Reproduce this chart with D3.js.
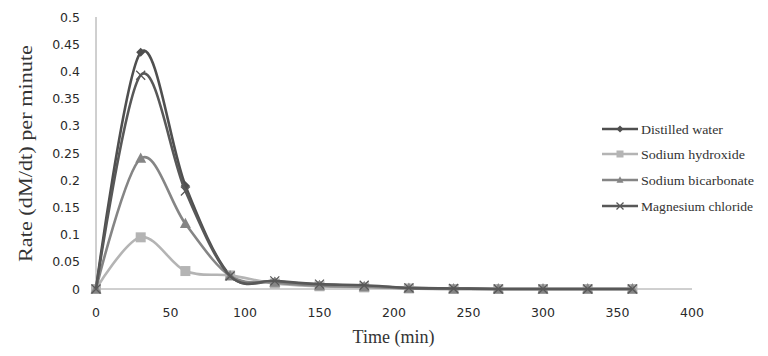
<!DOCTYPE html>
<html><head><meta charset="utf-8">
<script src="https://cdn.jsdelivr.net/npm/d3@7"></script>
<style>body{margin:0;background:#fff;}svg{display:block;}</style>
</head><body><svg id="c" width="768" height="356"></svg>
<script>
const times = [0,30,60,90,120,150,180,210,240,270,300,330,360];
const distilledWater = [0,0.435,0.19,0.025,0.014,0.008,0.005,0.002,0.001,0,0,0,0];
const sodiumHydroxide = [0,0.095,0.033,0.025,0.01,0.005,0.003,0.001,0,0,0,0,0];
const sodiumBicarbonate = [0,0.24,0.12,0.024,0.012,0.006,0.004,0.001,0,0,0,0,0];
const magnesiumChloride = [0,0.393,0.18,0.024,0.015,0.009,0.007,0.002,0.001,0,0,0,0];
const seriesNames = ["Distilled water","Sodium hydroxide","Sodium bicarbonate","Magnesium chloride"];
const xTicks = [0,50,100,150,200,250,300,350,400];
const yTicks = [0,0.05,0.1,0.15,0.2,0.25,0.3,0.35,0.4,0.45,0.5];

const series = [
  {name:seriesNames[0], values:distilledWater, color:"#4f4f4f", marker:"diamond", len:82},
  {name:seriesNames[1], values:sodiumHydroxide, color:"#b4b4b4", marker:"square", len:104},
  {name:seriesNames[2], values:sodiumBicarbonate, color:"#858585", marker:"triangle", len:113},
  {name:seriesNames[3], values:magnesiumChloride, color:"#585858", marker:"x", len:112}
];

const svg = d3.select("#c");
const x = d3.scaleLinear().domain([0,400]).range([96,692]);
const y = d3.scaleLinear().domain([0,0.5]).range([289,17]);

svg.append("line").attr("x1",x(0)).attr("x2",x(0)).attr("y1",y(0.5)).attr("y2",y(0)).attr("stroke","#a0a0a0").attr("stroke-width",1);
svg.append("line").attr("x1",x(0)).attr("x2",x(400)).attr("y1",y(0)).attr("y2",y(0)).attr("stroke","#a0a0a0").attr("stroke-width",1);

const tickFont = "'DejaVu Sans', sans-serif";
const serif = "'Liberation Serif', 'Times New Roman', serif";
svg.append("g").selectAll("text").data(yTicks).join("text")
  .attr("x",80).attr("y",d=>y(d)).attr("dy","0.36em").attr("text-anchor","end")
  .attr("font-family",tickFont).attr("font-size",12.5).attr("fill","#2a2a2a")
  .text(d=>d3.format("~g")(d));
svg.append("g").selectAll("text").data(xTicks).join("text")
  .attr("x",d=>x(d)).attr("y",312).attr("dy","0.36em").attr("text-anchor","middle")
  .attr("font-family",tickFont).attr("font-size",12.5).attr("fill","#2a2a2a")
  .text(d=>d);

svg.append("text").attr("x",393.5).attr("y",343).attr("text-anchor","middle")
  .attr("font-family",serif).attr("font-size",18).attr("fill","#333")
  .attr("textLength",82).attr("lengthAdjust","spacingAndGlyphs").text("Time (min)");
svg.append("text").attr("transform","translate(32,153.5) rotate(-90)").attr("text-anchor","middle")
  .attr("font-family",serif).attr("font-size",19).attr("fill","#333")
  .attr("textLength",217).attr("lengthAdjust","spacingAndGlyphs").text("Rate (dM/dt) per minute");

const line = d3.line().x((d,i)=>x(times[i])).y(d=>y(d)).curve(d3.curveCardinal.tension(0));

function drawMarker(g, type, cx, cy, color, s){
  if(type==="diamond"){
    g.append("path").attr("d",`M${cx},${cy-s}L${cx+s},${cy}L${cx},${cy+s}L${cx-s},${cy}Z`).attr("fill",color);
  } else if(type==="square"){
    g.append("rect").attr("x",cx-s).attr("y",cy-s).attr("width",2*s).attr("height",2*s).attr("fill",color);
  } else if(type==="triangle"){
    g.append("path").attr("d",`M${cx},${cy-s*1.1}L${cx+s},${cy+s*0.8}L${cx-s},${cy+s*0.8}Z`).attr("fill",color);
  } else {
    g.append("path").attr("d",`M${cx-s},${cy-s}L${cx+s},${cy+s}M${cx-s},${cy+s}L${cx+s},${cy-s}`).attr("stroke",color).attr("stroke-width",1.3);
  }
}
const sizes = {diamond:4.5, square:5, triangle:5.5, x:4.5};

series.forEach(s=>{
  const g = svg.append("g");
  g.append("path").datum(s.values).attr("d",line).attr("fill","none").attr("stroke",s.color).attr("stroke-width",2.6);
  s.values.forEach((v,i)=>drawMarker(g,s.marker,x(times[i]),y(v),s.color,sizes[s.marker]));
});

const legY = [129,154,180,206];
series.forEach((s,i)=>{
  const g = svg.append("g");
  g.append("line").attr("x1",602).attr("x2",638).attr("y1",legY[i]).attr("y2",legY[i]).attr("stroke",s.color).attr("stroke-width",2.4);
  drawMarker(g,s.marker,620,legY[i],s.color,3.5);
  g.append("text").attr("x",641).attr("y",legY[i]).attr("dy","0.35em")
    .attr("font-family",serif).attr("font-size",13).attr("fill","#333")
    .attr("textLength",s.len).attr("lengthAdjust","spacingAndGlyphs").text(s.name);
});
</script></body></html>
